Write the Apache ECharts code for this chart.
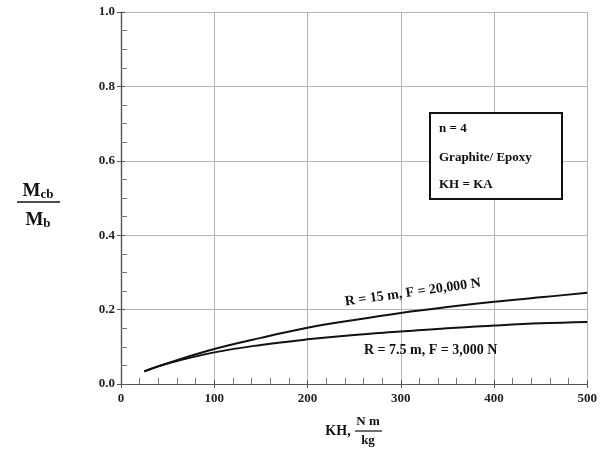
<!DOCTYPE html>
<html><head><meta charset="utf-8">
<script src="https://cdn.jsdelivr.net/npm/echarts@6/dist/echarts.min.js"></script>
<style>html,body{margin:0;padding:0;background:#fff}#c{width:600px;height:450px}</style>
</head><body><div id="c"></div>
<script>
const kh = [25, 50, 100, 150, 200, 250, 300, 350, 400, 450, 500];
const ratioR15 = [0.034, 0.056, 0.094, 0.124, 0.151, 0.172, 0.191, 0.207, 0.221, 0.233, 0.245];
const ratioR75 = [0.034, 0.055, 0.085, 0.105, 0.120, 0.132, 0.141, 0.150, 0.157, 0.163, 0.167];
const labelR15 = 'R = 15 m, F = 20,000 N';
const labelR75 = 'R = 7.5 m, F = 3,000 N';
const noteLines = ['n = 4', 'Graphite/ Epoxy', 'KH = KA'];

const F = '"Liberation Serif", "Times New Roman", serif';
const chart = echarts.init(document.getElementById('c'));
const tickStyle = {show: true, inside: true, length: 4, lineStyle: {color: '#555', width: 1}};
const axisLine = {show: true, lineStyle: {color: '#555', width: 1.2}};
const lab = {fontFamily: F, fontWeight: 'bold', fontSize: 13, color: '#222'};

// helper axes that only carry minor ticks, shifted inward so the ticks sit inside the frame
function minorAxis(kind, pos, split, max, interval) {
  return {type: 'value', min: 0, max, interval, position: pos, offset: -3,
    axisLine: {show: false}, axisTick: {show: false}, axisLabel: {show: false},
    splitLine: {show: false},
    minorTick: {show: true, splitNumber: split, length: 3, lineStyle: {color: '#777'}}};
}

chart.setOption({
  animation: false,
  grid: {left: 121, right: 12, top: 12, bottom: 66, show: false},
  xAxis: [
    {type: 'value', min: 0, max: 500, interval: 100, position: 'bottom',
     axisLine, axisTick: tickStyle,
     splitLine: {show: true, lineStyle: {color: '#b5b5b5', width: 1}},
     axisLabel: Object.assign({margin: 8}, lab)},
    {type: 'value', min: 0, max: 500, interval: 100, position: 'top',
     axisLine, axisTick: tickStyle, splitLine: {show: false}, axisLabel: {show: false}},
    minorAxis('x', 'bottom', 5, 500, 100),
    minorAxis('x', 'top', 5, 500, 100)
  ],
  yAxis: [
    {type: 'value', min: 0, max: 1, interval: 0.2, position: 'left',
     axisLine, axisTick: tickStyle,
     splitLine: {show: true, lineStyle: {color: '#b5b5b5', width: 1}},
     axisLabel: Object.assign({margin: 6, formatter: v => v.toFixed(1)}, lab)},
    {type: 'value', min: 0, max: 1, interval: 0.2, position: 'right',
     axisLine, axisTick: tickStyle, splitLine: {show: false}, axisLabel: {show: false}},
    minorAxis('y', 'left', 4, 1, 0.2),
    minorAxis('y', 'right', 4, 1, 0.2)
  ],
  series: [
    {type: 'line', name: labelR15, smooth: 0.4, symbol: 'none',
     data: kh.map((x, i) => [x, ratioR15[i]]), lineStyle: {color: '#111', width: 2}},
    {type: 'line', name: labelR75, smooth: 0.4, symbol: 'none',
     data: kh.map((x, i) => [x, ratioR75[i]]), lineStyle: {color: '#111', width: 2}}
  ]
});

const p15 = chart.convertToPixel({xAxisIndex: 0, yAxisIndex: 0}, [313, 0.246]);
const p75 = chart.convertToPixel({xAxisIndex: 0, yAxisIndex: 0}, [332, 0.091]);
const tf = {fontFamily: F, fontWeight: 'bold', fill: '#111'};

chart.setOption({
  graphic: [
    {type: 'text', x: p15[0], y: p15[1], rotation: 8 * Math.PI / 180,
     style: Object.assign({text: labelR15, fontSize: 14, align: 'center', verticalAlign: 'middle'}, tf)},
    {type: 'text', x: p75[0], y: p75[1],
     style: Object.assign({text: labelR75, fontSize: 14, align: 'center', verticalAlign: 'middle'}, tf)},
    {type: 'rect', shape: {x: 430, y: 113, width: 132, height: 86},
     style: {fill: '#fff', stroke: '#111', lineWidth: 2}, z: 10},
    {type: 'text', x: 439, y: 129, z: 11,
     style: Object.assign({text: noteLines[0], fontSize: 13, verticalAlign: 'middle'}, tf)},
    {type: 'text', x: 439, y: 158, z: 11,
     style: Object.assign({text: noteLines[1], fontSize: 13, verticalAlign: 'middle'}, tf)},
    {type: 'text', x: 439, y: 185, z: 11,
     style: Object.assign({text: noteLines[2], fontSize: 13, verticalAlign: 'middle'}, tf)},
    {type: 'text', x: 38, y: 191,
     style: {text: '{m|M}{s|cb}', align: 'center', verticalAlign: 'middle',
       rich: {m: {fontFamily: F, fontWeight: 'bold', fontSize: 19, fill: '#111'},
              s: {fontFamily: F, fontWeight: 'bold', fontSize: 13, fill: '#111', padding: [8, 0, 0, 0]}}}},
    {type: 'line', shape: {x1: 17, y1: 202, x2: 60, y2: 202}, style: {stroke: '#111', lineWidth: 1.5}},
    {type: 'text', x: 38, y: 220,
     style: {text: '{m|M}{s|b}', align: 'center', verticalAlign: 'middle',
       rich: {m: {fontFamily: F, fontWeight: 'bold', fontSize: 19, fill: '#111'},
              s: {fontFamily: F, fontWeight: 'bold', fontSize: 13, fill: '#111', padding: [8, 0, 0, 0]}}}},
    {type: 'text', x: 338, y: 431,
     style: Object.assign({text: 'KH,', fontSize: 14, align: 'center', verticalAlign: 'middle'}, tf)},
    {type: 'text', x: 368, y: 422,
     style: Object.assign({text: 'N m', fontSize: 13, align: 'center', verticalAlign: 'middle'}, tf)},
    {type: 'line', shape: {x1: 355, y1: 431, x2: 382, y2: 431}, style: {stroke: '#111', lineWidth: 1.2}},
    {type: 'text', x: 368, y: 441,
     style: Object.assign({text: 'kg', fontSize: 13, align: 'center', verticalAlign: 'middle'}, tf)}
  ]
});
</script></body></html>
